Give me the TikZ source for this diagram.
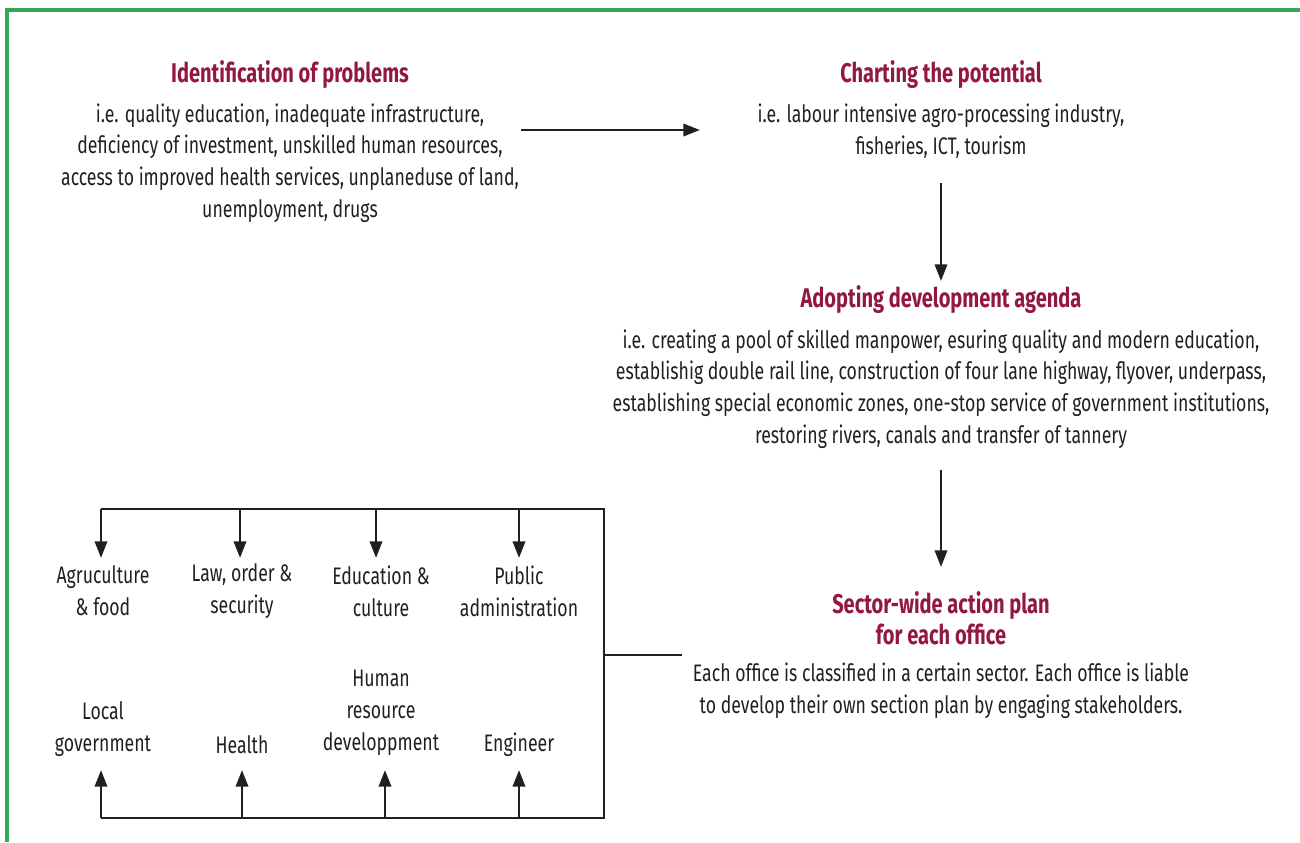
\documentclass[tikz,border=0pt]{standalone}
\usepackage{fontspec}
\setmainfont[FakeStretch=0.74]{Fira Sans}
\usetikzlibrary{arrows.meta}
\definecolor{titlered}{RGB}{146,24,64}
\definecolor{framegreen}{RGB}{52,168,83}
\definecolor{textgray}{RGB}{35,31,32}
\tikzset{
  head/.style={text=titlered, font=\bfseries\fontsize{15.4}{17.6}\selectfont, align=center, inner sep=1pt},
  body/.style={text=textgray, font=\fontsize{13.6}{18.1}\selectfont, align=center, inner sep=1pt},
  sector/.style={body},
  wire/.style={line width=1.5pt, draw=textgray},
  arr/.style={wire, -{Triangle[length=9.5pt,width=7pt]}}
}
\begin{document}
\begin{tikzpicture}[x=0.02cm,y=-0.02cm]
    \useasboundingbox (0,0) rectangle (1300,842);
    % frame
    \draw [framegreen, line width=1.8pt] (7,842) -- (7,10) -- (1300,10);
    % stages
    \node [head] (probhead) at (290,75) {Identification of problems};
    \node [body] (probtext) at (290,163) {i.e. quality education, inadequate infrastructure,\\deficiency of investment, unskilled human resources,\\access to improved health services, unplaneduse of land,\\unemployment, drugs};
    \node [head] (pothead) at (941,75) {Charting the potential};
    \node [body] (pottext) at (941,131) {i.e. labour intensive agro-processing industry,\\fisheries, ICT, tourism};
    \node [head] (agehead) at (941,300) {Adopting development agenda};
    \node [body] (agetext) at (941,389) {i.e. creating a pool of skilled manpower, esuring quality and modern education,\\establishig double rail line, construction of four lane highway, flyover, underpass,\\establishing special economic zones, one-stop service of government institutions,\\restoring rivers, canals and transfer of tannery};
    \node [head] (planhead) at (941,618) {Sector-wide action plan\\for each office};
    \node [body] (plantext) at (941,691) {Each office is classified in a certain sector. Each office is liable\\to develop their own section plan by engaging stakeholders.};
    % sectors
    \node [sector] (agri) at (103,591) {Agruculture\\\& food};
    \node [sector] (law) at (242,591) {Law, order \&\\security};
    \node [sector] (edu) at (381,591) {Education \&\\culture};
    \node [sector] (pub) at (519,591) {Public\\administration};
    \node [sector] (local) at (103,729) {Local\\government};
    \node [sector] (health) at (242,745) {Health};
    \node [sector] (human) at (381,713) {Human\\resource\\developpment};
    \node [sector] (engr) at (519,745) {Engineer};
    % connectors
    \coordinate (p1) at (521,130);
    \coordinate (p2) at (700,130);
    \coordinate (c1) at (941,183);
    \coordinate (c2) at (941,281);
    \coordinate (a1) at (941,470);
    \coordinate (a2) at (941,567);
    \coordinate (tl) at (101,509);
    \coordinate (tr) at (604,509);
    \coordinate (br) at (604,818);
    \coordinate (bl) at (101,818);
    \coordinate (sp) at (682,655);
    \draw [arr] (p1) -- (p2);
    \draw [arr] (c1) -- (c2);
    \draw [arr] (a1) -- (a2);
    \draw [wire] (tl) -- (tr) -- (br) -- (bl);
    \draw [wire] (sp) -- (tr |- sp);
    \draw [arr] (tl) -- ++(0,49);
    \draw [arr] (240,509) -- ++(0,49);
    \draw [arr] (376,509) -- ++(0,49);
    \draw [arr] (519,509) -- ++(0,49);
    \draw [arr] (bl) -- ++(0,-48);
    \draw [arr] (242,818) -- ++(0,-48);
    \draw [arr] (385,818) -- ++(0,-48);
    \draw [arr] (519,818) -- ++(0,-48);
\end{tikzpicture}
\end{document}
